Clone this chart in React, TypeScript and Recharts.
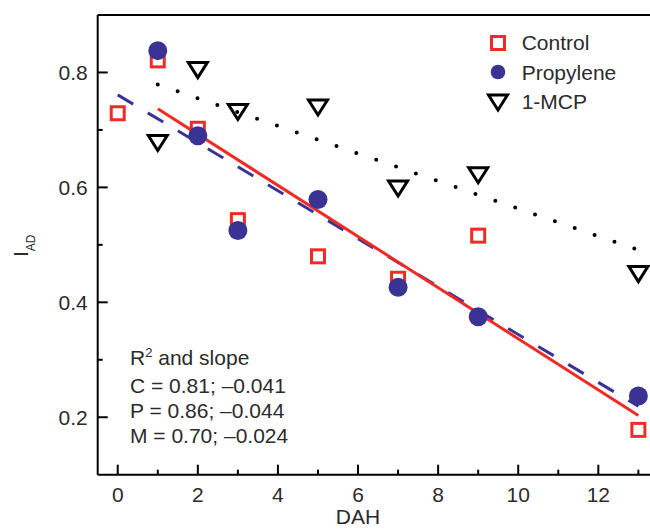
import { ComposedChart, Line, ReferenceLine, Scatter, XAxis, YAxis } from "recharts";

const FONT = '"Liberation Sans", Arial, sans-serif';
const INK = "#2b2b2b";
const RED = "#ee2b24";
const BLUE = "#3b3393";

// measured points (DAH vs I_AD)
const controlDays = [0, 1, 2, 3, 5, 7, 9, 13];
const controlIad = [0.729, 0.821, 0.702, 0.543, 0.48, 0.441, 0.516, 0.178];
const treatedDays = [1, 2, 3, 5, 7, 9, 13];
const propyleneIad = [0.838, 0.69, 0.525, 0.579, 0.426, 0.375, 0.237];
const mcpIad = [0.678, 0.805, 0.732, 0.74, 0.599, 0.622, 0.45];

// linear fits, endpoints
const controlFitDays = [1, 13];
const controlFit = [0.737, 0.203];
const propyleneFitDays = [0, 13];
const propyleneFit = [0.761, 0.219];
const mcpFitDays = [1, 13];
const mcpFit = [0.779, 0.491];

const xTicks = [0, 1, 2, 3, 4, 5, 6, 7, 8, 9, 10, 11, 12, 13];
const yTicks = [0.2, 0.3, 0.4, 0.5, 0.6, 0.7, 0.8];
const statLines = ["C = 0.81; \u20130.041", "P = 0.86; \u20130.044", "M = 0.70; \u20130.024"];

const toPoints = (xs: number[], ys: number[]) => xs.map((x, i) => ({ x, y: ys[i] }));

const controlPoints = toPoints(controlDays, controlIad);
const propylenePoints = toPoints(treatedDays, propyleneIad);
const mcpPoints = toPoints(treatedDays, mcpIad);

type ShapeProps = { cx?: number; cy?: number };

const Square = ({ cx = 0, cy = 0 }: ShapeProps) => (
  <rect x={cx - 6.5} y={cy - 6.5} width={13} height={13} fill="none" stroke={RED} strokeWidth={3} />
);

const Dot = ({ cx = 0, cy = 0 }: ShapeProps) => <circle cx={cx} cy={cy} r={9.5} fill={BLUE} />;

const Triangle = ({ cx = 0, cy = 0 }: ShapeProps) => (
  <path
    d={`M${cx - 9.5},${cy - 7}L${cx + 9.5},${cy - 7}L${cx},${cy + 8}Z`}
    fill="none"
    stroke="#000"
    strokeWidth={3}
  />
);

const XTick = (props: { x?: number; y?: number; payload?: { value: number } }) => {
  const { x = 0, y = 0, payload } = props;
  const v = payload?.value ?? 0;
  const major = v % 2 === 0;
  return (
    <g>
      <line x1={x} x2={x} y1={y} y2={y - (major ? 10 : 5)} stroke="#000" strokeWidth={2} />
      {major && (
        <text x={x} y={y + 27} textAnchor="middle" fontSize={21} fontFamily={FONT} fill={INK}>
          {v}
        </text>
      )}
    </g>
  );
};

const YTick = (props: { x?: number; y?: number; payload?: { value: number } }) => {
  const { x = 0, y = 0, payload } = props;
  const v = payload?.value ?? 0;
  const major = Math.round(v * 10) % 2 === 0;
  return (
    <g>
      <line x1={x} x2={x + (major ? 10 : 5)} y1={y} y2={y} stroke="#000" strokeWidth={2} />
      {major && (
        <text x={x - 10} y={y} dy="0.36em" textAnchor="end" fontSize={21} fontFamily={FONT} fill={INK}>
          {v.toFixed(1)}
        </text>
      )}
    </g>
  );
};

const legendItems = [
  { name: "Control", marker: <rect x={3.5} y={3.5} width={13} height={13} fill="none" stroke={RED} strokeWidth={3} /> },
  { name: "Propylene", marker: <circle cx={10} cy={10} r={7.3} fill={BLUE} /> },
  { name: "1-MCP", marker: <path d="M0.5,3L19.5,3L10,18Z" fill="none" stroke="#000" strokeWidth={3} /> },
];

export default function App() {
  return (
    <div
      style={{
        position: "absolute",
        left: 0,
        top: 0,
        width: 650,
        height: 529,
        overflow: "hidden",
        background: "#fff",
        fontFamily: FONT,
      }}
    >
      <ComposedChart width={680} height={529} margin={{ top: 15, right: 21.6, bottom: 14.3, left: 37.7 }}>
        <XAxis
          dataKey="x"
          type="number"
          domain={[-0.5, 13.5]}
          ticks={xTicks}
          interval={0}
          height={40}
          tickSize={0}
          tickMargin={0}
          tickLine={false}
          tick={<XTick />}
          axisLine={{ stroke: "#000", strokeWidth: 2 }}
          label={{
            content: () => (
              <text x={358} y={524} textAnchor="middle" fontSize={21} fontFamily={FONT} fill={INK}>
                DAH
              </text>
            ),
          }}
        />
        <YAxis
          dataKey="y"
          type="number"
          domain={[0.1, 0.9]}
          ticks={yTicks}
          interval={0}
          width={60}
          tickSize={0}
          tickMargin={0}
          tickLine={false}
          tick={<YTick />}
          axisLine={{ stroke: "#000", strokeWidth: 2 }}
          label={{
            content: () => (
              <text
                x={28}
                y={257}
                transform="rotate(-90 28 257)"
                fontSize={21}
                fontFamily={FONT}
                fill={INK}
              >
                I
                <tspan fontSize={12} dy={7}>
                  AD
                </tspan>
              </text>
            ),
          }}
        />
        <ReferenceLine y={0.9} stroke="#000" strokeWidth={2} />
        <ReferenceLine x={13.5} stroke="#000" strokeWidth={2} />

        <Scatter name="Control" data={controlPoints} shape={<Square />} isAnimationActive={false} />
        <Scatter name="Propylene" data={propylenePoints} shape={<Dot />} isAnimationActive={false} />
        <Scatter name="1-MCP" data={mcpPoints} shape={<Triangle />} isAnimationActive={false} />

        <Line
          data={toPoints(mcpFitDays, mcpFit)}
          dataKey="y"
          type="linear"
          stroke="#000"
          strokeWidth={4}
          strokeLinecap="round"
          strokeDasharray="0 21"
          dot={false}
          activeDot={false}
          legendType="none"
          isAnimationActive={false}
        />
        <Line
          data={toPoints(propyleneFitDays, propyleneFit)}
          dataKey="y"
          type="linear"
          stroke={BLUE}
          strokeWidth={3}
          strokeDasharray="18 17"
          dot={false}
          activeDot={false}
          legendType="none"
          isAnimationActive={false}
        />
        <Line
          data={toPoints(controlFitDays, controlFit)}
          dataKey="y"
          type="linear"
          stroke={RED}
          strokeWidth={3}
          dot={false}
          activeDot={false}
          legendType="none"
          isAnimationActive={false}
        />
      </ComposedChart>

      <div style={{ position: "absolute", left: 488, top: 28, color: INK, fontSize: 21 }}>
        {legendItems.map((item) => (
          <div key={item.name} style={{ display: "flex", alignItems: "center", height: 29.5 }}>
            <svg width={20} height={20} style={{ overflow: "visible" }}>
              {item.marker}
            </svg>
            <span style={{ marginLeft: 13.7, lineHeight: "29.5px" }}>{item.name}</span>
          </div>
        ))}
      </div>

      <div style={{ position: "absolute", left: 130, top: 344.5, color: INK, fontSize: 21, lineHeight: "25px" }}>
        <div>
          R<span style={{ fontSize: 13, position: "relative", top: -8 }}>2</span> and slope
        </div>
        {statLines.map((s) => (
          <div key={s}>{s}</div>
        ))}
      </div>
    </div>
  );
}
